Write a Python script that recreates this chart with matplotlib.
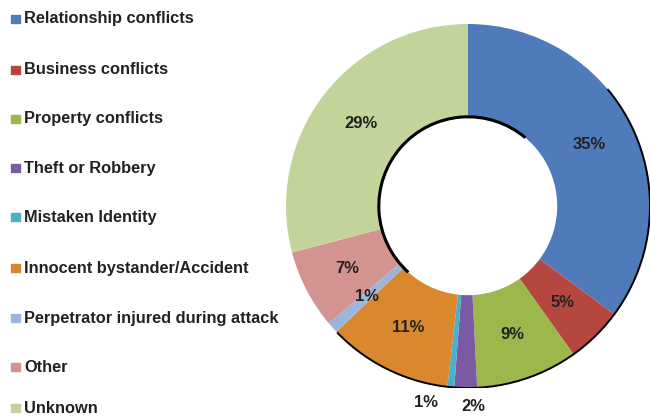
import matplotlib
matplotlib.use("Agg")
import matplotlib.pyplot as plt
from matplotlib.patches import Arc, Rectangle
import numpy as np

categories = ["Relationship conflicts", "Business conflicts", "Property conflicts",
              "Theft or Robbery", "Mistaken Identity", "Innocent bystander/Accident",
              "Perpetrator injured during attack", "Other", "Unknown"]
values = [35, 5, 9, 2, 0.6, 11, 1, 7, 29]
labels = ["35%", "5%", "9%", "2%", "1%", "11%", "1%", "7%", "29%"]
colors = ["#4F7BBA", "#B5473F", "#9CB74B", "#7A5BA3", "#4AAFC9",
          "#D9882E", "#9AB6DC", "#D39391", "#C3D49B"]

W, H = 651, 419
fig = plt.figure(figsize=(W / 100, H / 100), dpi=100)
fig.patch.set_facecolor("white")

cx, cy, R = 468, 206, 182
ax = fig.add_axes([(cx - R) / W, (H - cy - R) / H, 2 * R / W, 2 * R / H])
ring = 0.51
wedges, _ = ax.pie(values, colors=colors, startangle=90, counterclock=False,
                   radius=1.0, wedgeprops=dict(width=ring, linewidth=0))
ax.set_xlim(-1, 1)
ax.set_ylim(-1, 1)
ax.set_aspect("equal")
ax.axis("off")

# shading edges (shadow look)
ax.add_patch(Arc((0, 0), 2.0, 2.0, theta1=-136, theta2=40, color="black", lw=1.4))
ax.add_patch(Arc((0, 0), 2 * (1 - ring), 2 * (1 - ring), theta1=50, theta2=228,
                 color="black", lw=2.2))

mid_r = 1 - ring / 2
for i, (w, lab) in enumerate(zip(wedges, labels)):
    ang = np.deg2rad((w.theta1 + w.theta2) / 2)
    if categories[i] == "Theft or Robbery":
        x, y = 0.03, -1.10
    elif categories[i] == "Mistaken Identity":
        x, y = -0.23, -1.08
    else:
        x, y = mid_r * np.cos(ang), mid_r * np.sin(ang)
    ax.text(x, y, lab, ha="center", va="center", fontsize=12, fontweight="bold",
            color="#222222", family="Liberation Sans")

# legend
ys = [19, 70, 119, 168, 217, 268, 318, 367, 408]
for cat, col, yy in zip(categories, colors, ys):
    fig.patches.append(Rectangle((11 / W, (H - yy - 4) / H), 9 / W, 8 / H,
                                 transform=fig.transFigure, color=col, zorder=3))
    fig.text(24 / W, (H - yy) / H, cat, ha="left", va="center", fontsize=11.8,
             fontweight="bold", color="#222222", family="Liberation Sans")

fig.savefig("out.png", dpi=100)
